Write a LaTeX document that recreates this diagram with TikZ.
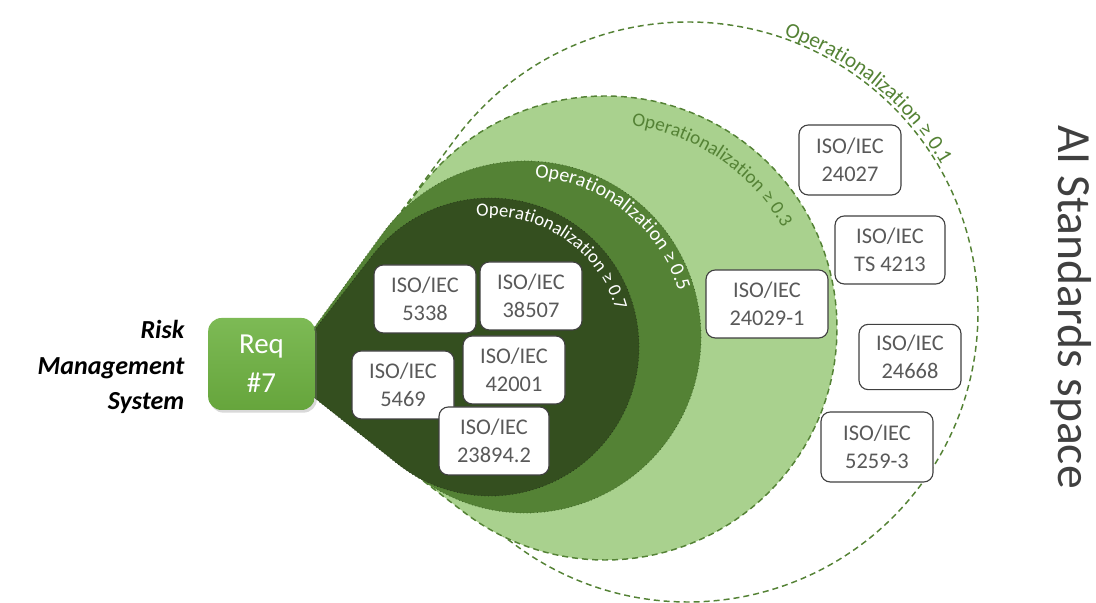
\documentclass[tikz,border=0pt]{standalone}
\usepackage{fontspec}
\setmainfont{Carlito}
\usetikzlibrary{calc,decorations.text,shadows}

\definecolor{gLight}{HTML}{A9D18E}
\definecolor{gMid}{HTML}{548235}
\definecolor{gMidEdge}{HTML}{3F6628}
\definecolor{gDark}{HTML}{344F1F}
\definecolor{gDarkEdge}{HTML}{26391A}
\definecolor{reqTop}{HTML}{7DBA55}
\definecolor{reqBot}{HTML}{66A53C}
\definecolor{boxText}{HTML}{595959}
\definecolor{boxLine}{HTML}{404040}

% Tear-drop: the convex hull of an apex point and a circle.
% #1 path options, #2 apex, #3 circle centre, #4 radius (picture units)
\newcommand\dropshape[4]{%
  \path[#1] let \p1=(#2), \p2=(#3),
      \n1={veclen(\x2-\x1,\y2-\y1)},
      \n2={atan2(\y2-\y1,\x2-\x1)},
      \n3={asin(0.75*#4/\n1)} in
    (\p1) -- ($(\p2)+(\n2+90+\n3:#4)$)
    arc[start angle=\n2+90+\n3, end angle=\n2-90-\n3, radius=#4] -- cycle;
}

\begin{document}
\begin{tikzpicture}[x=0.75pt,y=0.75pt,
  isobox/.style={draw=boxLine, line width=0.85pt, fill=white, rounded corners=7pt,
    text=boxText, align=center, font=\fontsize{16.8}{21}\selectfont,
    minimum width=76.5pt, minimum height=51pt, inner sep=1pt},
  reqbox/.style={rounded corners=10pt, top color=reqTop, bottom color=reqBot,
    draw=none, text=white, align=center, font=\fontsize{21.75}{29}\selectfont,
    minimum width=80pt, minimum height=69pt,
    drop shadow={opacity=0.3, shadow xshift=1.5pt, shadow yshift=-2pt}},
  oplabel/.style n args={3}{decorate, decoration={text along path, text align=center,
    text color=#1, text={|\fontsize{#2}{#2}\selectfont|#3}}}
]
\useasboundingbox (0,0) rectangle (1096,603);

\coordinate (apex) at (282,231);
\coordinate (cO) at (688,291);
\coordinate (cL) at (605,275);
\coordinate (cM) at (525,266);
\coordinate (cD) at (490,256);

% nested operationalization regions
\dropshape{draw=gMid, line width=1.1pt, dash pattern=on 4.5pt off 3pt}{apex}{cO}{290}
\dropshape{fill=gLight, draw=gMid, line width=1.1pt, dash pattern=on 4.5pt off 3pt}{apex}{cL}{232}
\dropshape{fill=gMid, draw=gMidEdge, line width=0.6pt, dotted}{apex}{cM}{176}
\dropshape{fill=gDark, draw=gDarkEdge, line width=0.6pt, dotted}{apex}{cD}{149}

% threshold labels along the arcs
\path[oplabel={gMid}{16}{Operationalization ≥ 0.1}]
  ($(cO)+(76:293)$) arc[start angle=76, end angle=25, radius=293];
\path[oplabel={gMid}{14.5}{Operationalization ≥ 0.3}]
  ($(cL)+(86:204)$) arc[start angle=86, end angle=26, radius=204];
\path[oplabel={white}{15}{Operationalization ≥ 0.5}]
  ($(cM)+(92:160)$) arc[start angle=92, end angle=11, radius=160];
\path[oplabel={white}{14}{Operationalization ≥ 0.7}]
  ($(cD)+(100:131)$) arc[start angle=100, end angle=12, radius=131];

% standards
\node[isobox] (s5338)  at (425,304) {ISO/IEC\\5338};
\node[isobox] (s38507) at (531,307) {ISO/IEC\\38507};
\node[isobox] (s5469)  at (403,218) {ISO/IEC\\5469};
\node[isobox] (s42001) at (514,233) {ISO/IEC\\42001};
\node[isobox, minimum width=82.5pt] (s23894) at (494,162) {ISO/IEC\\23894.2};
\node[isobox, minimum width=91.5pt] (s24029) at (767,299) {ISO/IEC\\24029-1};
\node[isobox, minimum height=52.5pt] (s24027) at (850,443) {ISO/IEC\\24027};
\node[isobox, minimum width=82.5pt] (s4213) at (890,353) {ISO/IEC\\TS 4213};
\node[isobox, minimum height=49pt] (s24668) at (910,246) {ISO/IEC\\24668};
\node[isobox, minimum width=84pt, minimum height=52.5pt] (s5259) at (877,156) {ISO/IEC\\5259-3};

% requirement
\node[reqbox] (req) at (261.5,239) {Req\\\#7};
\node[anchor=east, align=right, font=\fontsize{19.5}{26.6}\selectfont\bfseries\itshape]
  (rms) at (189,236) {Risk\\Management\\System};

\node[rotate=-90, anchor=base, text=boxLine, font=\fontsize{35.7}{40}\selectfont]
  (space) at (1058,296) {AI Standards space};
\end{tikzpicture}
\end{document}
